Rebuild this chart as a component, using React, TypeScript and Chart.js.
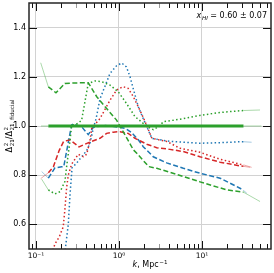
import React, { useEffect, useRef } from "react";
import { Chart, registerables } from "chart.js";

Chart.register(...registerables);

const BLUE = "#1f77b4";
const RED = "#d62728";
const GREEN = "#2ca02c";

// fiducial (green solid)
const kFid = [0.115, 0.141, 31.6, 52];
const vFid = [1, 1, 1, 1];

// green dashed
const kGreenDashed = [0.114, 0.141, 0.174, 0.223, 0.3, 0.426, 0.54, 0.68, 0.935, 1.2, 1.49, 1.65, 2.28, 2.85, 4.47, 9.46, 20, 31.6, 50];
const vGreenDashed = [1.257, 1.159, 1.135, 1.173, 1.175, 1.176, 1.119, 1.078, 1.024, 0.96, 0.903, 0.888, 0.835, 0.828, 0.808, 0.773, 0.74, 0.731, 0.693];

// green dotted
const kGreenDotted = [0.117, 0.141, 0.169, 0.195, 0.223, 0.234, 0.257, 0.269, 0.323, 0.355, 0.426, 0.513, 0.62, 0.78, 0.98, 1.23, 1.56, 1.96, 2.4, 2.6, 3.1, 3.4, 5.96, 9.46, 16.5, 28.7, 31.6, 50];
const vGreenDotted = [0.784, 0.74, 0.724, 0.733, 0.774, 0.835, 0.94, 1.002, 1.011, 1.024, 1.173, 1.183, 1.18, 1.166, 1.139, 1.092, 1.038, 1.011, 0.99, 0.985, 1.0, 1.017, 1.03, 1.043, 1.055, 1.062, 1.063, 1.065];

// blue dashed
const kBlueDashed = [0.117, 0.141, 0.169, 0.204, 0.216, 0.257, 0.269, 0.281, 0.355, 0.426, 0.49, 0.647, 0.8, 1.0, 1.2, 1.4, 1.7, 1.96, 2.59, 3.76, 5.96, 9.46, 16.5, 28.7, 31.6, 34.6];
const vBlueDashed = [0.815, 0.788, 0.83, 0.834, 0.835, 0.97, 1.004, 1.008, 0.997, 0.965, 0.995, 1.002, 1.0, 0.995, 0.99, 0.975, 0.945, 0.916, 0.875, 0.85, 0.828, 0.808, 0.788, 0.747, 0.738, 0.727];

// blue dotted
const kBlueDotted = [0.222, 0.245, 0.257, 0.272, 0.31, 0.408, 0.447, 0.49, 0.53, 0.59, 0.78, 0.935, 1.08, 1.23, 1.36, 1.49, 1.71, 1.96, 2.49, 3.76, 5.4, 9.46, 16.5, 28.7, 31.6, 39.6];
const vBlueDotted = [0.48, 0.6, 0.72, 0.83, 0.85, 0.9, 0.93, 0.99, 1.03, 1.11, 1.214, 1.245, 1.256, 1.24, 1.2, 1.15, 1.078, 1.03, 0.95, 0.939, 0.935, 0.93, 0.932, 0.936, 0.936, 0.934];

// red dashed
const kRedDashed = [0.114, 0.141, 0.162, 0.19, 0.215, 0.257, 0.33, 0.448, 0.59, 0.71, 0.85, 1.03, 1.29, 1.56, 2.16, 2.85, 4.1, 5.96, 9.46, 16.5, 28.7, 31.6, 37.9];
const vRedDashed = [0.786, 0.81, 0.834, 0.9, 0.937, 0.944, 0.915, 0.935, 0.95, 0.97, 0.975, 0.977, 0.97, 0.95, 0.926, 0.912, 0.905, 0.896, 0.875, 0.853, 0.838, 0.836, 0.832];

// red dotted
const kRedDotted = [0.155, 0.169, 0.191, 0.213, 0.223, 0.234, 0.245, 0.269, 0.323, 0.372, 0.408, 0.447, 0.469, 0.54, 0.59, 0.78, 0.935, 1.12, 1.29, 1.49, 1.71, 2.05, 2.49, 3.76, 5.4, 9.46, 16.5, 28.7, 31.6, 39.6];
const vRedDotted = [0.48, 0.52, 0.55, 0.59, 0.66, 0.75, 0.8, 0.845, 0.885, 0.875, 0.885, 0.94, 0.99, 1.015, 1.03, 1.105, 1.146, 1.16, 1.153, 1.119, 1.078, 1.02, 0.95, 0.937, 0.91, 0.893, 0.865, 0.845, 0.842, 0.832];

// axes
const xTickVals = [0.09, 0.1, 0.2, 0.3, 0.4, 0.5, 0.6, 0.7, 0.8, 0.9, 1, 2, 3, 4, 5, 6, 7, 8, 9, 10, 20, 30, 40, 50, 60];
const xMajorVals = [0.1, 1, 10];
const xMajorLabels = ["10⁻¹", "10⁰", "10¹"];
const yTickVals = [0.6, 0.8, 1.0, 1.2, 1.4];
const yTickLabels = ["0.6", "0.8", "1.0", "1.2", "1.4"];
const X_MIN = 0.0824;
const X_MAX = 67.8;
const Y_MIN = 0.5;
const Y_MAX = 1.5;

const FONT = '"DejaVu Sans"';
const DASHED = [5, 2.5];
const DOTTED = [1.5, 2.4];

type Piece = { t?: string; it?: boolean; sup?: string; sub?: string; subIt?: boolean };

function fnt(size: number, it?: boolean) {
  return `${it ? "italic " : ""}${size}px ${FONT}`;
}
function pieceWidth(ctx: CanvasRenderingContext2D, p: Piece, S: number) {
  if (p.sup !== undefined || p.sub !== undefined) {
    const s = S * 0.7;
    ctx.font = fnt(s);
    const a = p.sup ? ctx.measureText(p.sup).width : 0;
    ctx.font = fnt(s, p.subIt);
    const b = p.sub ? ctx.measureText(p.sub).width : 0;
    return Math.max(a, b) + 0.6;
  }
  ctx.font = fnt(S, p.it);
  return ctx.measureText(p.t || "").width;
}
function richWidth(ctx: CanvasRenderingContext2D, pieces: Piece[], S: number) {
  return pieces.reduce((w, p) => w + pieceWidth(ctx, p, S), 0);
}
function drawRich(ctx: CanvasRenderingContext2D, pieces: Piece[], x: number, y: number, S: number) {
  let cx = x;
  ctx.textAlign = "left";
  ctx.textBaseline = "alphabetic";
  for (const p of pieces) {
    const w = pieceWidth(ctx, p, S);
    if (p.sup !== undefined || p.sub !== undefined) {
      const s = S * 0.7;
      if (p.sup) {
        ctx.font = fnt(s);
        ctx.fillText(p.sup, cx + 0.6, y - S * 0.4);
      }
      if (p.sub) {
        ctx.font = fnt(s, p.subIt);
        ctx.fillText(p.sub, cx + 0.6, y + S * 0.25);
      }
    } else {
      ctx.font = fnt(S, p.it);
      ctx.fillText(p.t || "", cx, y);
    }
    cx += w;
  }
}

const yLabelPieces: Piece[] = [
  { t: "Δ" },
  { sup: "2", sub: "21" },
  { t: "/" },
  { t: "Δ" },
  { sup: "2", sub: "21, fiducial" },
];
const xLabelPieces: Piece[] = [{ t: "k", it: true }, { t: ", Mpc" }, { sup: "−1" }];
const annotPieces: Piece[] = [{ t: "x", it: true }, { sub: "HI", subIt: true }, { t: " = 0.60 ± 0.07" }];

function fade(hex: string) {
  const r = parseInt(hex.slice(1, 3), 16);
  const g = parseInt(hex.slice(3, 5), 16);
  const b = parseInt(hex.slice(5, 7), 16);
  return `rgba(${r},${g},${b},0.4)`;
}

function pts(k: number[], v: number[]) {
  return k.map((x, i) => ({ x, y: v[i] }));
}

function isFaded(c: any) {
  return c.p1.parsed.x <= 0.142 || c.p0.parsed.x >= 31;
}

function makeDataset(label: string, k: number[], v: number[], color: string, width: number, dash: number[]) {
  return {
    label,
    data: pts(k, v),
    showLine: true,
    pointRadius: 0,
    pointHoverRadius: 0,
    borderColor: color,
    backgroundColor: color,
    borderWidth: width,
    borderDash: dash,
    fill: false,
    tension: 0,
    segment: {
      borderColor: (c: any) => (isFaded(c) ? fade(color) : color),
      borderWidth: (c: any) => (isFaded(c) ? 1 : width),
      borderDash: (c: any) => (isFaded(c) ? [] : dash),
    },
  };
}

const decorPlugin = {
  id: "decor",
  afterDraw(chart: any) {
    const ctx: CanvasRenderingContext2D = chart.ctx;
    const { left, right, top, bottom } = chart.chartArea;
    const xs = chart.scales.x;
    const ys = chart.scales.y;
    ctx.save();
    ctx.lineWidth = 1;
    for (const v of xTickVals) {
      const px = Math.round(xs.getPixelForValue(v)) + 0.5;
      if (px < left || px > right) continue;
      const major = xMajorVals.includes(v);
      const len = major ? 8 : 5;
      ctx.strokeStyle = v === 0.3 || v === 3 ? "#9a9a9a" : "#111";
      ctx.beginPath();
      ctx.moveTo(px, bottom);
      ctx.lineTo(px, bottom - len);
      ctx.moveTo(px, top);
      ctx.lineTo(px, top + len);
      ctx.stroke();
    }
    ctx.strokeStyle = "#111";
    for (const v of yTickVals) {
      const py = Math.round(ys.getPixelForValue(v)) + 0.5;
      ctx.beginPath();
      ctx.moveTo(left, py);
      ctx.lineTo(left + 8, py);
      ctx.moveTo(right, py);
      ctx.lineTo(right - 8, py);
      ctx.stroke();
    }
    ctx.strokeStyle = "#262626";
    ctx.lineWidth = 1.5;
    ctx.strokeRect(left, top, right - left, bottom - top);

    ctx.fillStyle = "#000";
    const S = 8;
    const wx = richWidth(ctx, xLabelPieces, S);
    drawRich(ctx, xLabelPieces, (left + right) / 2 - wx / 2, 267, S);
    const wy = richWidth(ctx, yLabelPieces, S);
    ctx.save();
    ctx.translate(11.5, (top + bottom) / 2);
    ctx.rotate(-Math.PI / 2);
    drawRich(ctx, yLabelPieces, -wy / 2, 0, S);
    ctx.restore();
    const wa = richWidth(ctx, annotPieces, S);
    drawRich(ctx, annotPieces, 267 - wa, 18, S);
    ctx.restore();
  },
};

export default function App() {
  const ref = useRef<HTMLCanvasElement | null>(null);
  useEffect(() => {
    if (!ref.current) return;
    const chart = new Chart(ref.current, {
      type: "scatter",
      data: {
        datasets: [
          makeDataset("fiducial", kFid, vFid, GREEN, 3, []),
          makeDataset("green dashed", kGreenDashed, vGreenDashed, GREEN, 1.5, DASHED),
          makeDataset("green dotted", kGreenDotted, vGreenDotted, GREEN, 1.5, DOTTED),
          makeDataset("red dashed", kRedDashed, vRedDashed, RED, 1.5, DASHED),
          makeDataset("red dotted", kRedDotted, vRedDotted, RED, 1.5, DOTTED),
          makeDataset("blue dashed", kBlueDashed, vBlueDashed, BLUE, 1.5, DASHED),
          makeDataset("blue dotted", kBlueDotted, vBlueDotted, BLUE, 1.5, DOTTED),
        ] as any,
      },
      options: {
        animation: false,
        responsive: false,
        devicePixelRatio: 1,
        events: [],
        layout: { padding: { top: 3, right: 3, left: 0, bottom: 0 } },
        plugins: { legend: { display: false }, tooltip: { enabled: false } },
        scales: {
          x: {
            type: "logarithmic",
            position: "bottom",
            min: X_MIN,
            max: X_MAX,
            afterBuildTicks: (s: any) => {
              s.ticks = xTickVals.map((v) => ({ value: v, major: xMajorVals.includes(v) }));
            },
            afterFit: (s: any) => {
              s.height = 24;
              s.paddingLeft = 0;
              s.paddingRight = 0;
            },
            grid: {
              drawTicks: false,
              lineWidth: 1,
              color: (c: any) => (c.tick && xMajorVals.includes(c.tick.value) ? "#d2d2d2" : "rgba(0,0,0,0)"),
            },
            border: { display: false },
            ticks: {
              autoSkip: false,
              maxRotation: 0,
              minRotation: 0,
              padding: 3,
              color: "#000",
              font: { family: "DejaVu Sans", size: 7.5 },
              callback: (v: any) => {
                const i = xMajorVals.indexOf(Number(v));
                return i >= 0 ? xMajorLabels[i] : "";
              },
            },
          },
          y: {
            type: "linear",
            min: Y_MIN,
            max: Y_MAX,
            afterBuildTicks: (s: any) => {
              s.ticks = yTickVals.map((v) => ({ value: v }));
            },
            afterFit: (s: any) => {
              s.width = 29;
              s.paddingTop = 0;
              s.paddingBottom = 0;
            },
            grid: { drawTicks: false, lineWidth: 1, color: "#d2d2d2" },
            border: { display: false },
            ticks: {
              padding: 3,
              color: "#000",
              font: { family: "DejaVu Sans", size: 8 },
              callback: (v: any) => {
                const i = yTickVals.findIndex((t) => Math.abs(t - Number(v)) < 1e-6);
                return i >= 0 ? yTickLabels[i] : "";
              },
            },
          },
        },
      },
      plugins: [decorPlugin],
    });
    return () => chart.destroy();
  }, []);
  return (
    <div style={{ position: "fixed", left: 0, top: 0, width: 274, height: 273, background: "#fff" }}>
      <canvas ref={ref} width={274} height={273} style={{ display: "block", width: 274, height: 273 }} />
    </div>
  );
}
